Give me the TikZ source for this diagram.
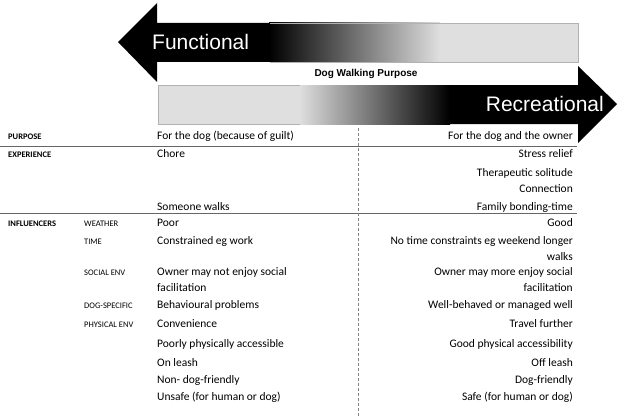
\documentclass[tikz,border=0pt]{standalone}
\usepackage{fontspec}
\setmainfont{Carlito}
\newfontfamily\arialfont{Liberation Sans}
\usetikzlibrary{shadings}

\tikzset{
  cell/.style={font=\fontsize{11.5}{13}\selectfont, inner sep=0pt, anchor=base west},
  cellr/.style={cell, anchor=base east},
  head/.style={font=\fontsize{8.5}{10}\selectfont\bfseries, inner sep=0pt, anchor=base west},
  sub/.style={font=\fontsize{8.5}{10}\selectfont, inner sep=0pt, anchor=base west},
  rule/.style={gray!80!black, line width=0.8pt}
}

\begin{document}
\begin{tikzpicture}[x=1pt,y=-1pt]
\useasboundingbox (0,0) rectangle (618,420);
% top arrow (functional)
\fill[black] (118,42) -- (157,3) -- (157,23) -- (270,23) -- (270,62) -- (157,62) -- (157,82) -- cycle;
\shade[left color=black, right color=gray!25] (269,23) rectangle (440,62);
\fill[gray!25] (439,23) rectangle (578,62);
\draw[gray!60, line width=0.4pt] (270,23) -- (578,23) -- (578,62) -- (270,62);
\node[font=\arialfont\fontsize{21}{24}\selectfont, text=white, anchor=west, inner sep=0pt] (func) at (152,42) {Functional};
% bottom arrow (recreational)
\fill[gray!25] (158,85) rectangle (300,124);
\shade[left color=gray!25, right color=black] (299,85) rectangle (450,124);
\fill[black] (449,85) -- (578,85) -- (578,66) -- (617,104) -- (578,143) -- (578,124) -- (449,124) -- cycle;
\draw[gray!60, line width=0.4pt] (300,85) -- (158,85) -- (158,124) -- (300,124);
\node[font=\arialfont\fontsize{21}{24}\selectfont, text=white, anchor=east, inner sep=0pt] (recr) at (604,104) {Recreational};
\node[font=\arialfont\fontsize{10}{12}\selectfont\bfseries, inner sep=0pt] (purp) at (366,74) {Dog Walking Purpose};
% rules
\coordinate (r1a) at (0,146); \coordinate (r1b) at (577,146);
\coordinate (r2a) at (0,213); \coordinate (r2b) at (577,213);
\coordinate (da) at (358,128); \coordinate (db) at (358,416);
\draw[rule] (r1a) -- (r1b);
\draw[rule] (r2a) -- (r2b);
\draw[gray, densely dashed, line width=0.5pt] (da) -- (db);
% row labels
\node[head] (lpurp) at (8,139) {PURPOSE};
\node[head] (lexp) at (8,157) {EXPERIENCE};
\node[head] (linf) at (8,226) {INFLUENCERS};
\node[sub] (lwea) at (84,226) {WEATHER};
\node[sub] (ltim) at (84,244) {TIME};
\node[sub] (lsoc) at (84,275) {SOCIAL ENV};
\node[sub] (ldog) at (84,308) {DOG-SPECIFIC};
\node[sub] (lphy) at (84,327) {PHYSICAL ENV};
% functional side
\foreach \y/\t in {139/For the dog (because of guilt), 157/Chore, 210/Someone walks, 226/Poor,
  244/Constrained eg work, 275/Owner may not enjoy social, 291/facilitation, 308/Behavioural problems,
  327/Convenience, 347/Poorly physically accessible, 366/On leash, 383/Non- dog-friendly,
  400/Unsafe (for human or dog)}
  \node[cell] at (157,\y) {\t};
% recreational side
\foreach \y/\t in {139/For the dog and the owner, 157/Stress relief/relaxation, 176/Therapeutic solitude,
  192/Connection, 210/Family bonding-time, 226/Good, 244/No time constraints eg weekend longer,
  260/walks, 275/Owner may more enjoy social, 291/facilitation, 308/Well-behaved or managed well,
  327/Travel further, 347/Good physical accessibility, 366/Off leash, 383/Dog-friendly,
  400/Safe (for human or dog)}
  \node[cellr] at (573,\y) {\t};
\end{tikzpicture}
\end{document}
